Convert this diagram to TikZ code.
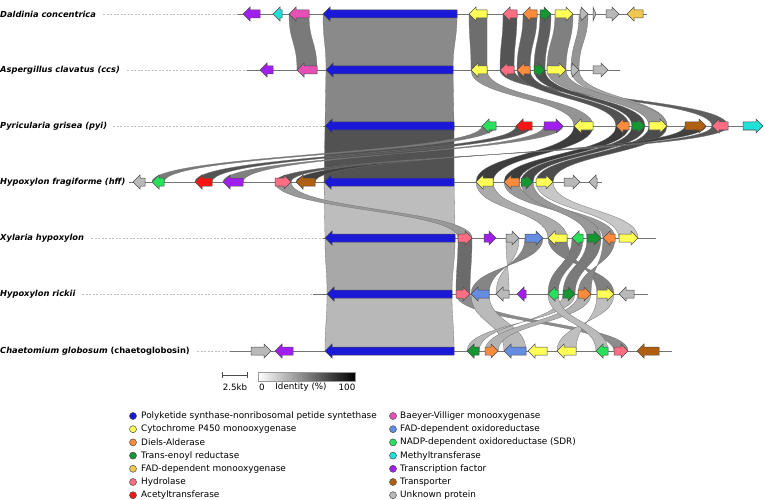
\documentclass[tikz,border=0pt]{standalone}
\usepackage{fontspec}
\setmainfont{DejaVu Sans}
\definecolor{pks}{RGB}{25,25,215}
\definecolor{cyp}{RGB}{255,255,85}
\definecolor{da}{RGB}{255,140,60}
\definecolor{ter}{RGB}{20,150,50}
\definecolor{fmo}{RGB}{240,200,80}
\definecolor{hyd}{RGB}{255,110,130}
\definecolor{act}{RGB}{250,20,20}
\definecolor{bvmo}{RGB}{230,80,180}
\definecolor{fox}{RGB}{100,140,225}
\definecolor{sdr}{RGB}{40,225,90}
\definecolor{mt}{RGB}{30,225,215}
\definecolor{tf}{RGB}{160,30,240}
\definecolor{tra}{RGB}{175,95,15}
\definecolor{unk}{RGB}{185,185,185}
\tikzset{
  gene/.style={draw=black!70,line width=0.5pt,line join=miter},
  lnk/.style={draw=black!55,line width=0.3pt},
  track/.style={draw=black!55,line width=0.8pt},
  dashtrack/.style={draw=black!25,line width=0.6pt,dash pattern=on 2pt off 1.5pt},
  lab/.style={anchor=west,inner sep=0pt,font=\fontsize{8.3}{10}\selectfont\bfseries\itshape},
  legtext/.style={anchor=west,inner sep=0pt,font=\fontsize{8.9}{10.6}\selectfont},
  legdot/.style={draw=black!70,line width=0.5pt,circle,inner sep=0pt,minimum size=7pt},
  small/.style={inner sep=0pt,font=\fontsize{8.7}{10.4}\selectfont}
}
\newcommand{\geneR}[4]{%
  \pgfmathsetmacro{\hdl}{min(7,#2-#1)}%
  \filldraw[gene,fill=#4] (#1,#3-4) -- ({#2-\hdl},#3-4) -- ({#2-\hdl},#3-7) -- (#2,#3) -- ({#2-\hdl},#3+7) -- ({#2-\hdl},#3+4) -- (#1,#3+4) -- cycle;}
\newcommand{\geneL}[4]{%
  \pgfmathsetmacro{\hdl}{min(7,#2-#1)}%
  \filldraw[gene,fill=#4] (#2,#3-4) -- ({#1+\hdl},#3-4) -- ({#1+\hdl},#3-7) -- (#1,#3) -- ({#1+\hdl},#3+7) -- ({#1+\hdl},#3+4) -- (#2,#3+4) -- cycle;}
\newcommand{\glink}[7]{%
  \pgfmathsetmacro{\ymid}{(#3+#6)/2}%
  \filldraw[lnk,fill=#7] (#1,#3) -- (#2,#3) .. controls (#2,\ymid) and (#5,\ymid) .. (#5,#6) -- (#4,#6) .. controls (#4,\ymid) and (#1,\ymid) .. (#1,#3) -- cycle;}
\begin{document}
\begin{tikzpicture}[x=1pt,y=-1pt]
\useasboundingbox (0,0) rectangle (765,500);
% labels
\node[lab] (l1) at (0,14) {Daldinia concentrica};
\node[lab] (l2) at (0,70) {Aspergillus clavatus (ccs)};
\node[lab] (l3) at (0,126) {Pyricularia grisea (pyi)};
\node[lab] (l4) at (0,182) {Hypoxylon fragiforme (hff)};
\node[lab] (l5) at (0,238) {Xylaria hypoxylon};
\node[lab] (l6) at (0,294) {Hypoxylon rickii};
\node[lab] (l7) at (0,351) {Chaetomium globosum \upshape(chaetoglobosin)};
% dashed leaders
\draw[dashtrack] (103,14) -- (238,14);
\draw[dashtrack] (127,70) -- (247,70);
\draw[dashtrack] (113,126) -- (323,126);
\draw[dashtrack] (91,238) -- (323,238);
\draw[dashtrack] (82,294) -- (313,294);
\draw[dashtrack] (197,351) -- (230,351);
% tracks
\draw[track] (238,14) -- (647,14);
\draw[track] (247,70) -- (620,70);
\draw[track] (323,126) -- (763,126);
\draw[track] (129,182) -- (602,182);
\draw[track] (323,238) -- (656,238);
\draw[track] (313,294) -- (648,294);
\draw[track] (230,351) -- (672,351);
% links 1-2
\glink{323}{457}{14}{326}{453}{70}{black!46}
\glink{289}{309}{14}{297}{317}{70}{black!52}
\glink{469}{487}{14}{471}{487}{70}{black!57}
\glink{503}{517}{14}{500}{514}{70}{black!67}
\glink{523}{537}{14}{517}{530}{70}{black!62}
\glink{540}{551}{14}{534}{545}{70}{black!63}
\glink{555}{573}{14}{547}{566}{70}{black!50}
\glink{579}{588}{14}{571}{579}{70}{black!42}
% links 2-3
\glink{326}{453}{70}{325}{454}{126}{black!47}
\glink{471}{487}{70}{574}{593}{126}{black!42}
\glink{500}{514}{70}{712}{728}{126}{black!63}
\glink{517}{530}{70}{616}{629}{126}{black!68}
\glink{534}{545}{70}{632}{645}{126}{black!70}
\glink{571}{579}{70}{655}{667}{126}{black!35}
\glink{547}{566}{70}{649}{667}{126}{black!40}
% links 3-4
\glink{325}{454}{126}{324}{454}{182}{black!68}
\glink{482}{496}{126}{152}{164}{182}{black!52}
\glink{516}{532}{126}{195}{212}{182}{black!67}
\glink{544}{563}{126}{243}{223}{182}{black!50}
\glink{574}{593}{126}{476}{493}{182}{black!76}
\glink{616}{629}{126}{504}{519}{182}{black!77}
\glink{632}{645}{126}{521}{533}{182}{black!72}
\glink{649}{667}{126}{536}{553}{182}{black!70}
\glink{685}{706}{126}{315}{296}{182}{black!75}
\glink{712}{728}{126}{291}{275}{182}{black!66}
% links 4-5
\glink{324}{454}{182}{325}{455}{238}{black!26}
\glink{275}{291}{182}{458}{472}{238}{black!40}
\glink{476}{493}{182}{548}{567}{238}{black!33}
\glink{504}{519}{182}{603}{615}{238}{black!40}
\glink{521}{533}{182}{587}{601}{238}{black!40}
\glink{536}{553}{182}{619}{638}{238}{black!22}
% links 5-6
\glink{325}{455}{238}{327}{452}{294}{black!34}
\glink{458}{472}{238}{456}{470}{294}{black!58}
\glink{506}{519}{238}{509}{496}{294}{black!25}
\glink{525}{543}{238}{489}{471}{294}{black!48}
\glink{548}{567}{238}{614}{597}{294}{black!50}
\glink{572}{583}{238}{548}{558}{294}{black!52}
\glink{587}{601}{238}{563}{575}{294}{black!52}
\glink{603}{615}{238}{591}{578}{294}{black!47}
% links 6-7
\glink{327}{452}{294}{325}{454}{351}{black!28}
\glink{456}{470}{294}{614}{628}{351}{black!45}
\glink{471}{489}{294}{504}{526}{351}{black!27}
\glink{563}{575}{294}{479}{467}{351}{black!28}
\glink{578}{591}{294}{485}{498}{351}{black!30}
\glink{597}{614}{294}{576}{557}{351}{black!25}
\glink{548}{558}{294}{596}{608}{351}{black!27}
% genes row 1
\geneL{243}{260}{14}{tf}
\geneL{273}{282}{14}{mt}
\geneL{289}{309}{14}{bvmo}
\geneL{323}{457}{14}{pks}
\geneL{469}{487}{14}{cyp}
\geneL{503}{517}{14}{hyd}
\geneL{523}{537}{14}{da}
\geneR{540}{551}{14}{ter}
\geneR{555}{573}{14}{cyp}
\geneR{580}{588}{14}{unk}
\geneR{593}{596}{14}{unk}
\geneR{606}{619}{14}{unk}
\geneL{627}{643}{14}{fmo}
% row 2
\geneL{260}{273}{70}{tf}
\geneL{297}{317}{70}{bvmo}
\geneL{326}{453}{70}{pks}
\geneL{471}{487}{70}{cyp}
\geneL{500}{514}{70}{hyd}
\geneL{517}{530}{70}{da}
\geneR{534}{545}{70}{ter}
\geneR{547}{566}{70}{cyp}
\geneR{571}{579}{70}{unk}
\geneR{593}{608}{70}{unk}
% row 3
\geneL{325}{454}{126}{pks}
\geneL{482}{496}{126}{sdr}
\geneL{516}{532}{126}{act}
\geneR{544}{563}{126}{tf}
\geneL{574}{593}{126}{cyp}
\geneL{616}{629}{126}{da}
\geneR{632}{645}{126}{ter}
\geneR{649}{667}{126}{cyp}
\geneR{685}{706}{126}{tra}
\geneL{712}{728}{126}{hyd}
\geneR{743}{763}{126}{mt}
% row 4
\geneL{133}{145}{182}{unk}
\geneL{152}{164}{182}{sdr}
\geneL{195}{212}{182}{act}
\geneL{223}{243}{182}{tf}
\geneR{275}{291}{182}{hyd}
\geneL{296}{315}{182}{tra}
\geneL{324}{454}{182}{pks}
\geneL{476}{493}{182}{cyp}
\geneL{504}{519}{182}{da}
\geneR{521}{533}{182}{ter}
\geneR{536}{553}{182}{cyp}
\geneR{564}{580}{182}{unk}
\geneL{589}{597}{182}{unk}
% row 5
\geneL{325}{455}{238}{pks}
\geneR{458}{472}{238}{hyd}
\geneR{484}{496}{238}{tf}
\geneR{506}{519}{238}{unk}
\geneR{525}{543}{238}{fox}
\geneL{548}{567}{238}{cyp}
\geneL{572}{583}{238}{sdr}
\geneR{587}{601}{238}{ter}
\geneL{603}{615}{238}{da}
\geneR{619}{638}{238}{cyp}
% row 6
\geneL{327}{452}{294}{pks}
\geneR{456}{470}{294}{hyd}
\geneL{471}{489}{294}{fox}
\geneL{496}{509}{294}{unk}
\geneL{517}{526}{294}{tf}
\geneL{548}{558}{294}{sdr}
\geneR{563}{575}{294}{ter}
\geneR{578}{591}{294}{da}
\geneR{597}{614}{294}{cyp}
\geneL{619}{634}{294}{unk}
% row 7
\geneR{251}{271}{351}{unk}
\geneL{275}{293}{351}{tf}
\geneL{325}{454}{351}{pks}
\geneL{467}{479}{351}{ter}
\geneR{485}{498}{351}{da}
\geneL{504}{526}{351}{fox}
\geneL{528}{547}{351}{cyp}
\geneL{557}{576}{351}{cyp}
\geneL{596}{608}{351}{sdr}
\geneR{614}{628}{351}{hyd}
\geneL{637}{659}{351}{tra}
% scale bar
\coordinate (sb1) at (222,375);
\coordinate (sb2) at (247,375);
\draw[black!70,line width=0.6pt] (sb1) -- (sb2);
\draw[black!70,line width=0.6pt] (222,372) -- (222,378) (247,372) -- (247,378);
\node[small] (kb) at (235,387) {2.5kb};
\shade[left color=white,right color=black] (258,372) rectangle (355,381);
\draw[black!40,line width=0.3pt] (258,372) rectangle (355,381);
\node[small] (i0) at (262,387) {0};
\node[small] (idt) at (301,387) {Identity (\%)};
\node[small] (i100) at (347,387) {100};
% legend
\foreach \c/\t [count=\i] in {pks/Polyketide synthase-nonribosomal petide syntethase,cyp/Cytochrome P450 monooxygenase,da/Diels-Alderase,ter/Trans-enoyl reductase,fmo/FAD-dependent monooxygenase,hyd/Hydrolase,act/Acetyltransferase}{
  \pgfmathsetmacro{\ly}{416+(\i-1)*13.2}
  \node[legdot,fill=\c] (dl\i) at (133,\ly) {};
  \node[legtext] (tl\i) at (141,\ly) {\t};
}
\foreach \c/\t [count=\i] in {bvmo/Baeyer-Villiger monooxygenase,fox/FAD-dependent oxidoreductase,sdr/NADP-dependent oxidoreductase (SDR),mt/Methyltransferase,tf/Transcription factor,tra/Transporter,unk/Unknown protein}{
  \pgfmathsetmacro{\ly}{416+(\i-1)*13.2}
  \node[legdot,fill=\c] (dr\i) at (393,\ly) {};
  \node[legtext] (tr\i) at (400,\ly) {\t};
}
\end{tikzpicture}
\end{document}
